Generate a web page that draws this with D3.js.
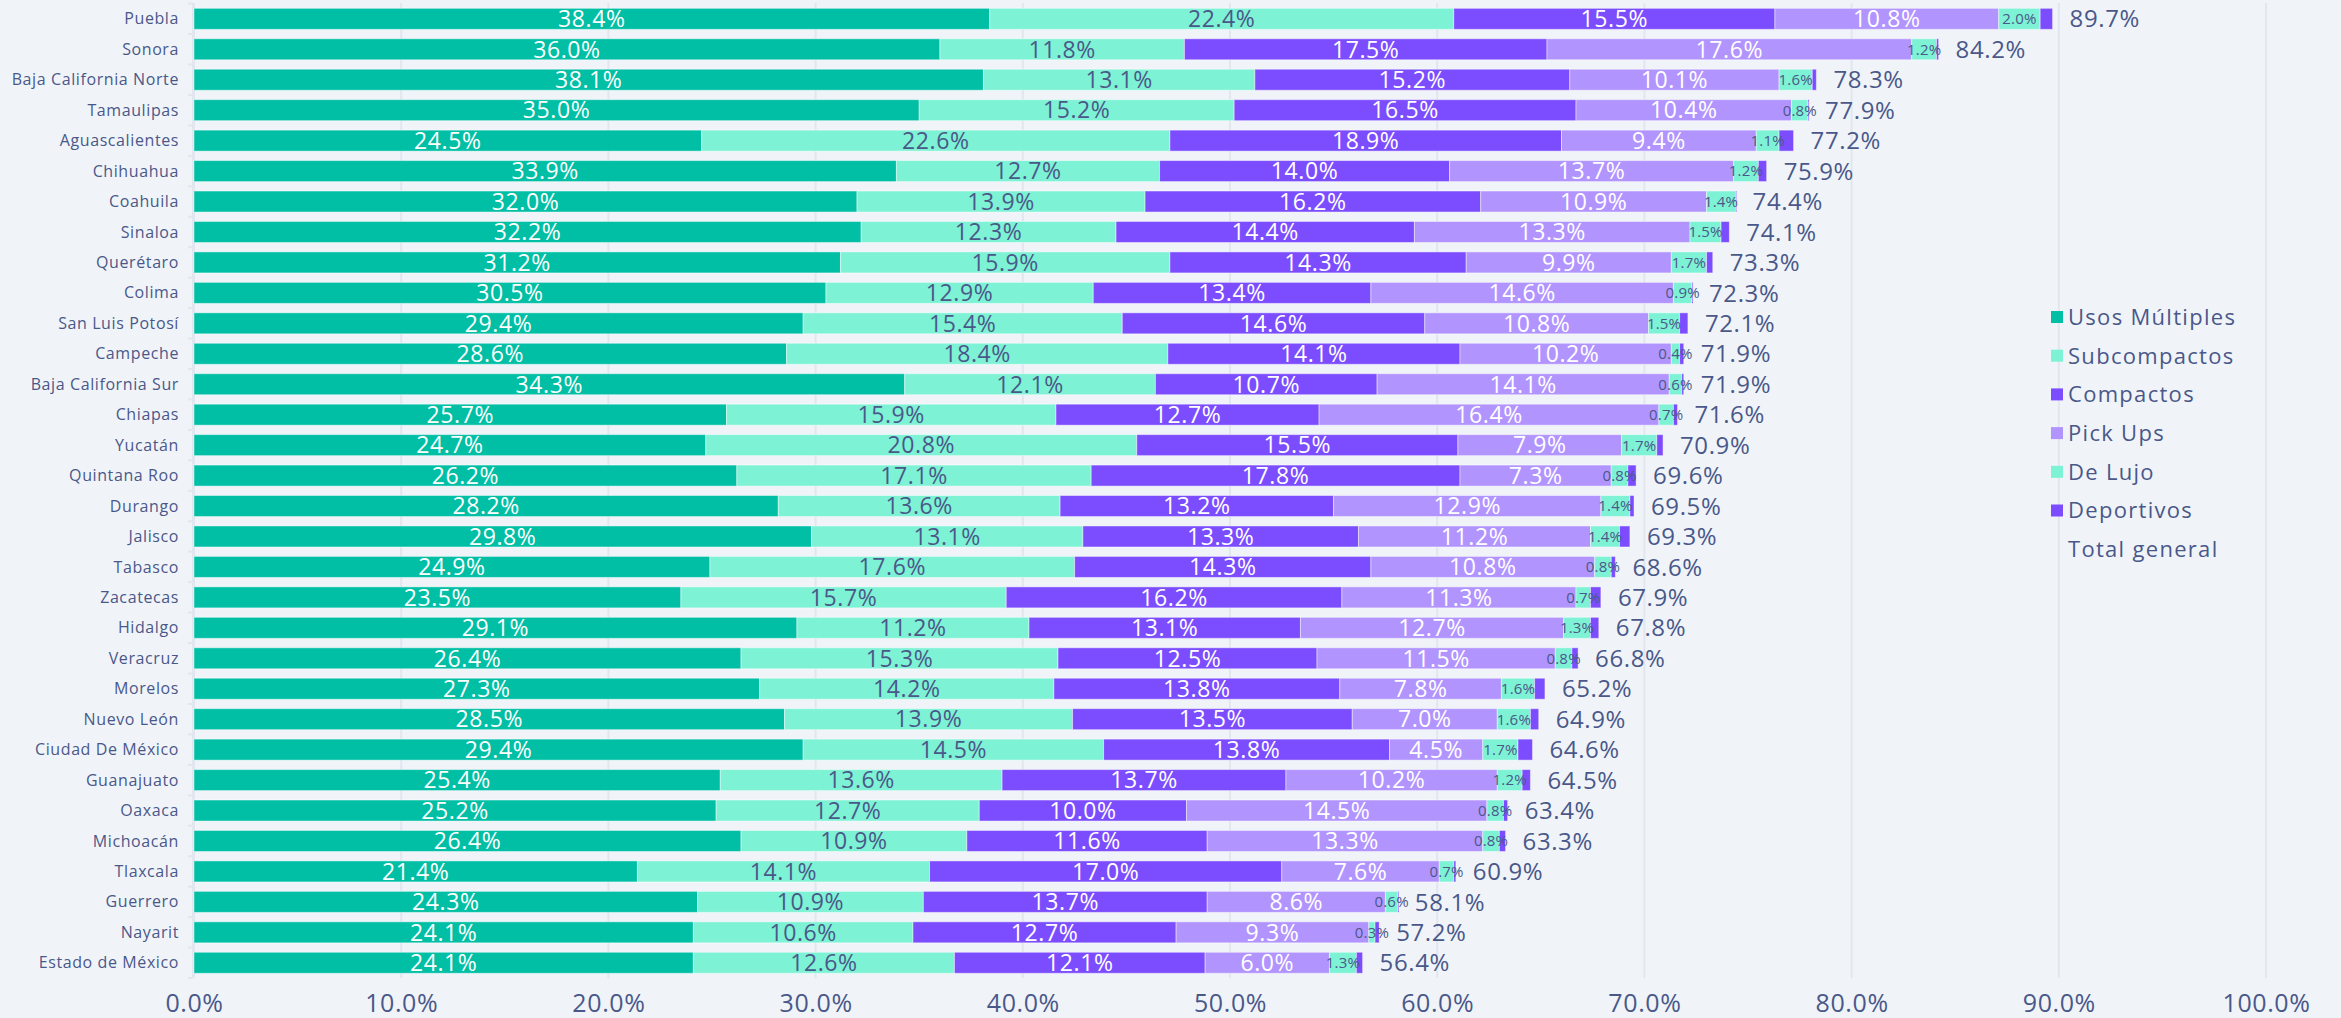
<!DOCTYPE html>
<html>
<head>
<meta charset="utf-8">
<script src="https://cdn.jsdelivr.net/npm/d3@7"></script>
<style>
  html, body { margin: 0; padding: 0; background: #f0f4f9; }
  svg { display: block; }
  text { font-family: "Open Sans", "Noto Sans", sans-serif; }
</style>
</head>
<body>
<svg id="chart" width="2341" height="1018"></svg>
<script>
// Participación por segmento y entidad (porcentaje)
const states = [
  "Puebla", "Sonora", "Baja California Norte", "Tamaulipas", "Aguascalientes",
  "Chihuahua", "Coahuila", "Sinaloa", "Querétaro", "Colima", "San Luis Potosí",
  "Campeche", "Baja California Sur", "Chiapas", "Yucatán", "Quintana Roo",
  "Durango", "Jalisco", "Tabasco", "Zacatecas", "Hidalgo", "Veracruz", "Morelos",
  "Nuevo León", "Ciudad De México", "Guanajuato", "Oaxaca", "Michoacán",
  "Tlaxcala", "Guerrero", "Nayarit", "Estado de México"
];
const usosMultiples = [38.4, 36.0, 38.1, 35.0, 24.5, 33.9, 32.0, 32.2, 31.2, 30.5, 29.4,
  28.6, 34.3, 25.7, 24.7, 26.2, 28.2, 29.8, 24.9, 23.5, 29.1, 26.4, 27.3,
  28.5, 29.4, 25.4, 25.2, 26.4, 21.4, 24.3, 24.1, 24.1];
const subcompactos = [22.4, 11.8, 13.1, 15.2, 22.6, 12.7, 13.9, 12.3, 15.9, 12.9, 15.4,
  18.4, 12.1, 15.9, 20.8, 17.1, 13.6, 13.1, 17.6, 15.7, 11.2, 15.3, 14.2,
  13.9, 14.5, 13.6, 12.7, 10.9, 14.1, 10.9, 10.6, 12.6];
const compactos = [15.5, 17.5, 15.2, 16.5, 18.9, 14.0, 16.2, 14.4, 14.3, 13.4, 14.6,
  14.1, 10.7, 12.7, 15.5, 17.8, 13.2, 13.3, 14.3, 16.2, 13.1, 12.5, 13.8,
  13.5, 13.8, 13.7, 10.0, 11.6, 17.0, 13.7, 12.7, 12.1];
const pickUps = [10.8, 17.6, 10.1, 10.4, 9.4, 13.7, 10.9, 13.3, 9.9, 14.6, 10.8,
  10.2, 14.1, 16.4, 7.9, 7.3, 12.9, 11.2, 10.8, 11.3, 12.7, 11.5, 7.8,
  7.0, 4.5, 10.2, 14.5, 13.3, 7.6, 8.6, 9.3, 6.0];
const deLujo = [2.0, 1.2, 1.6, 0.8, 1.1, 1.2, 1.4, 1.5, 1.7, 0.9, 1.5,
  0.4, 0.6, 0.7, 1.7, 0.8, 1.4, 1.4, 0.8, 0.7, 1.3, 0.8, 1.6,
  1.6, 1.7, 1.2, 0.8, 0.8, 0.7, 0.6, 0.3, 1.3];
const deportivos = [0.6, 0.1, 0.2, 0.05, 0.7, 0.4, 0.05, 0.4, 0.3, 0.05, 0.4,
  0.2, 0.1, 0.2, 0.3, 0.4, 0.2, 0.5, 0.2, 0.5, 0.4, 0.3, 0.5,
  0.4, 0.7, 0.4, 0.2, 0.3, 0.1, 0.05, 0.2, 0.3];
const totalGeneral = [89.7, 84.2, 78.3, 77.9, 77.2, 75.9, 74.4, 74.1, 73.3, 72.3, 72.1,
  71.9, 71.9, 71.6, 70.9, 69.6, 69.5, 69.3, 68.6, 67.9, 67.8, 66.8, 65.2,
  64.9, 64.6, 64.5, 63.4, 63.3, 60.9, 58.1, 57.2, 56.4];
const xTicks = [0, 10, 20, 30, 40, 50, 60, 70, 80, 90, 100];

const seriesNames = ["Usos Múltiples", "Subcompactos", "Compactos", "Pick Ups", "De Lujo", "Deportivos"];
const seriesValues = [usosMultiples, subcompactos, compactos, pickUps, deLujo, deportivos];
const seriesColors = ["#00bfa5", "#7ef2d4", "#7c4dff", "#b294ff", "#7ef2d4", "#7c4dff"];
// label style per series: fill colour, font size (null = no label)
const labelStyle = [
  { fill: "#ffffff", size: 23 },
  { fill: "#4a5889", size: 23 },
  { fill: "#ffffff", size: 23 },
  { fill: "#ffffff", size: 23 },
  { fill: "#4a5889", size: 15 },
  null
];

const textColor = "#4a5889";
const gridColor = "#e1e6ef";

const svg = d3.select("#chart");

const x = d3.scaleLinear().domain([0, 100]).range([194, 2266]);
const y = d3.scaleBand().domain(states).range([3.6, 978])
  .paddingInner(0.31).paddingOuter(0.155);

// rows for d3.stack
const rows = states.map((s, i) => {
  const r = { state: s, total: totalGeneral[i] };
  seriesNames.forEach((n, k) => { r[n] = seriesValues[k][i]; });
  return r;
});
const stacked = d3.stack().keys(seriesNames)(rows);

// vertical gridlines
svg.append("g").selectAll("line")
  .data(xTicks)
  .join("line")
  .attr("x1", d => x(d)).attr("x2", d => x(d))
  .attr("y1", 3).attr("y2", 978)
  .attr("stroke", gridColor).attr("stroke-width", 2);

// x axis labels
const xAxis = svg.append("g")
  .attr("transform", "translate(0,978)")
  .call(d3.axisBottom(x).tickValues(xTicks).tickSize(0).tickPadding(11)
    .tickFormat(d => d.toFixed(1) + "%"));
xAxis.select(".domain").remove();
xAxis.selectAll("text")
  .attr("fill", textColor)
  .attr("font-size", 25)
  .attr("letter-spacing", 0.6)
  .attr("dy", "0.9em");

// y axis: line with ticks between categories
const yAxis = svg.append("g").attr("transform", "translate(193,0)");
yAxis.append("line")
  .attr("x1", 0).attr("x2", 0).attr("y1", 3.6).attr("y2", 978)
  .attr("stroke", gridColor).attr("stroke-width", 2);
yAxis.selectAll("line.tick")
  .data(d3.range(states.length + 1))
  .join("line").attr("class", "tick")
  .attr("x1", -5).attr("x2", 0)
  .attr("y1", i => 3.6 + i * y.step()).attr("y2", i => 3.6 + i * y.step())
  .attr("stroke", gridColor).attr("stroke-width", 2);
yAxis.selectAll("text")
  .data(states)
  .join("text")
  .attr("x", -14)
  .attr("y", d => y(d) + y.bandwidth() / 2)
  .attr("dy", "0.35em")
  .attr("text-anchor", "end")
  .attr("fill", textColor)
  .attr("font-size", 16)
  .attr("letter-spacing", 0.6)
  .text(d => d);

// stacked bars
const layers = svg.append("g").selectAll("g")
  .data(stacked)
  .join("g")
  .attr("fill", (d, k) => seriesColors[k]);

layers.selectAll("rect")
  .data(d => d)
  .join("rect")
  .attr("x", d => x(d[0]))
  .attr("y", d => y(d.data.state))
  .attr("width", d => Math.max(0, x(d[1]) - x(d[0])))
  .attr("height", y.bandwidth())
  .attr("stroke", "rgba(255,255,255,0.45)")
  .attr("stroke-width", 1);

// segment labels
stacked.forEach((layer, k) => {
  const st = labelStyle[k];
  if (!st) return;
  svg.append("g").selectAll("text")
    .data(layer)
    .join("text")
    .attr("x", d => (x(d[0]) + x(d[1])) / 2)
    .attr("y", d => y(d.data.state) + y.bandwidth() / 2)
    .attr("dy", "0.36em")
    .attr("text-anchor", "middle")
    .attr("fill", st.fill)
    .attr("font-size", st.size)
    .attr("letter-spacing", st.size > 20 ? 0.6 : 0.2)
    .text(d => (d[1] - d[0]).toFixed(1) + "%");
});

// total labels
svg.append("g").selectAll("text")
  .data(rows)
  .join("text")
  .attr("x", d => x(d.total) + 17)
  .attr("y", d => y(d.state) + y.bandwidth() / 2)
  .attr("dy", "0.36em")
  .attr("fill", textColor)
  .attr("font-size", 24)
  .attr("letter-spacing", 0.6)
  .text(d => d.total.toFixed(1) + "%");

// legend
const legendItems = seriesNames.concat(["Total general"]);
const legend = svg.append("g").attr("transform", "translate(2051,317)");
const li = legend.selectAll("g")
  .data(legendItems)
  .join("g")
  .attr("transform", (d, i) => `translate(0,${i * 38.7})`);
li.filter((d, i) => i < seriesNames.length)
  .append("rect")
  .attr("x", 0).attr("y", -6).attr("width", 12).attr("height", 12)
  .attr("fill", (d, i) => seriesColors[i]);
li.append("text")
  .attr("x", 17)
  .attr("dy", "0.36em")
  .attr("fill", textColor)
  .attr("font-size", 22)
  .attr("letter-spacing", 1.3)
  .text(d => d);
</script>
</body>
</html>
